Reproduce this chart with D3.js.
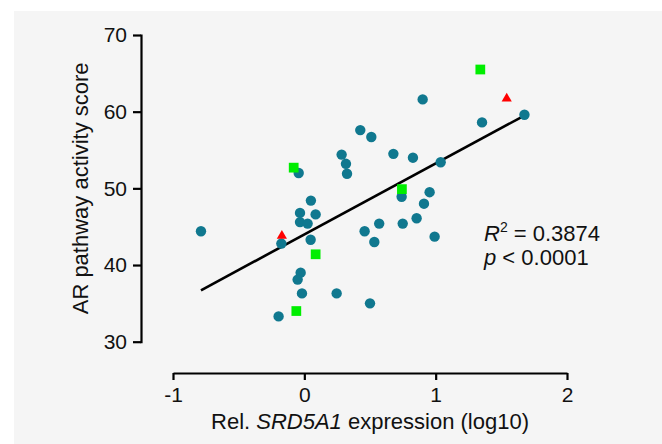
<!DOCTYPE html>
<html>
<head>
<meta charset="utf-8">
<title>AR pathway vs SRD5A1</title>
<script src="https://d3js.org/d3.v7.min.js"></script>
<style>
    body { margin: 0; background: #fff; }
    text { font-family: "Liberation Sans", Arial, sans-serif; fill: #111; }
</style>
</head>
<body>
<div id="chart"></div>
<script>
// teal circles
var circleX = [0.426, 0.51, 0.284, 0.317, 0.325, 0.678, -0.043, 0.05, 0.901, 1.676,
    1.353, 0.827, 1.038, 0.741, 0.954, 0.911, 0.57, 0.749, 0.855, 0.992,
    -0.787, -0.175, -0.033, 0.086, -0.033, 0.025, 0.048, 0.459, 0.533, -0.028,
    -0.051, -0.018, 0.246, 0.5, -0.196];
var circleY = [57.6, 56.7, 54.4, 53.2, 51.9, 54.5, 52.0, 48.4, 61.6, 59.6,
    58.6, 54.0, 53.4, 48.9, 49.5, 48.0, 45.4, 45.4, 46.1, 43.7,
    44.4, 42.8, 46.8, 46.6, 45.6, 45.4, 43.3, 44.4, 43.0, 39.0,
    38.1, 36.3, 36.3, 35.0, 33.3];
// green squares
var squareX = [-0.081, 1.34, 0.743, 0.086, -0.061];
var squareY = [52.7, 65.5, 49.9, 41.4, 34.0];
// red triangles
var triX = [1.541, -0.171];
var triY = [61.7, 43.8];
// fitted line end points
var fitX = [-0.787, 1.665];
var fitY = [36.7, 59.4];

var xTicks = [-1, 0, 1, 2];
var yTicks = [30, 40, 50, 60, 70];

var W = 662, H = 444;
var svg = d3.select("#chart").append("svg")
    .attr("width", W).attr("height", H);

// grey panel
svg.append("rect").attr("x", 14).attr("y", 11)
    .attr("width", W - 14).attr("height", H - 11)
    .attr("fill", "#f5f5f5");

var x = d3.scaleLinear().domain([-1, 2]).range([173, 567]);
var y = d3.scaleLinear().domain([30, 70]).range([341.7, 35]);

// y axis
var yAx = svg.append("g").attr("transform", "translate(141,0)");
yAx.call(d3.axisLeft(y).tickValues(d3.range(30, 70.1, 5)).tickFormat("").tickSize(7).tickSizeOuter(0));
yAx.call(d3.axisLeft(y).tickValues(yTicks).tickFormat(d3.format("d")).tickSize(8).tickSizeOuter(0).tickPadding(6));
yAx.selectAll("path, line").attr("stroke", "#000").attr("stroke-width", 2.2);
yAx.selectAll("text").style("font-size", "21px").attr("fill", "#111");
yAx.selectAll("path.domain").attr("stroke-linecap", "square");

// x axis
var minorX = d3.range(0, 28).map(function (i) { return -1 + i / 9; });
var xAx = svg.append("g").attr("transform", "translate(0,373)");
xAx.call(d3.axisBottom(x).tickValues(minorX).tickFormat("").tickSize(4).tickSizeOuter(0));
xAx.call(d3.axisBottom(x).tickValues(xTicks).tickFormat(d3.format("d")).tickSize(7).tickSizeOuter(0).tickPadding(7));
xAx.selectAll("path, line").attr("stroke", "#000").attr("stroke-width", 2.2);
xAx.selectAll("text").style("font-size", "21px").attr("fill", "#111")
    .text(function (d) { return d < 0 ? "-" + Math.abs(d) : d; });

// axis titles
svg.append("text")
    .attr("transform", "translate(88," + ((y(30) + y(70)) / 2) + ") rotate(-90)")
    .attr("text-anchor", "middle")
    .style("font-size", "22px")
    .text("AR pathway activity score");

var xt = svg.append("text")
    .attr("x", (x(-1) + x(2)) / 2).attr("y", 429)
    .attr("text-anchor", "middle")
    .style("font-size", "22px");
xt.append("tspan").text("Rel. ");
xt.append("tspan").style("font-style", "italic").text("SRD5A1");
xt.append("tspan").text(" expression (log10)");

// regression line
svg.append("line")
    .attr("x1", x(fitX[0])).attr("y1", y(fitY[0]))
    .attr("x2", x(fitX[1])).attr("y2", y(fitY[1]))
    .attr("stroke", "#000").attr("stroke-width", 2.6);

// points
svg.selectAll("circle.pt").data(circleX).enter().append("circle")
    .attr("class", "pt")
    .attr("cx", function (d) { return x(d); })
    .attr("cy", function (d, i) { return y(circleY[i]); })
    .attr("r", 5.2)
    .attr("fill", "#10788f");

svg.selectAll("path.sq").data(squareX).enter().append("path")
    .attr("class", "sq")
    .attr("transform", function (d, i) { return "translate(" + x(d) + "," + y(squareY[i]) + ")"; })
    .attr("d", d3.symbol().type(d3.symbolSquare).size(95))
    .attr("fill", "#00ee00");

svg.selectAll("path.tri").data(triX).enter().append("path")
    .attr("class", "tri")
    .attr("transform", function (d, i) { return "translate(" + x(d) + "," + y(triY[i]) + ")"; })
    .attr("d", d3.symbol().type(d3.symbolTriangle).size(45))
    .attr("fill", "#ff0000");

// stats
var s1 = svg.append("text").attr("x", 484).attr("y", 241).style("font-size", "22px");
s1.append("tspan").style("font-style", "italic").text("R");
s1.append("tspan").attr("dy", -9).style("font-size", "14px").text("2");
s1.append("tspan").attr("dy", 9).text(" = 0.3874");
var s2 = svg.append("text").attr("x", 484).attr("y", 265).style("font-size", "22px");
s2.append("tspan").style("font-style", "italic").text("p");
s2.append("tspan").text(" < 0.0001");
</script>
</body>
</html>
